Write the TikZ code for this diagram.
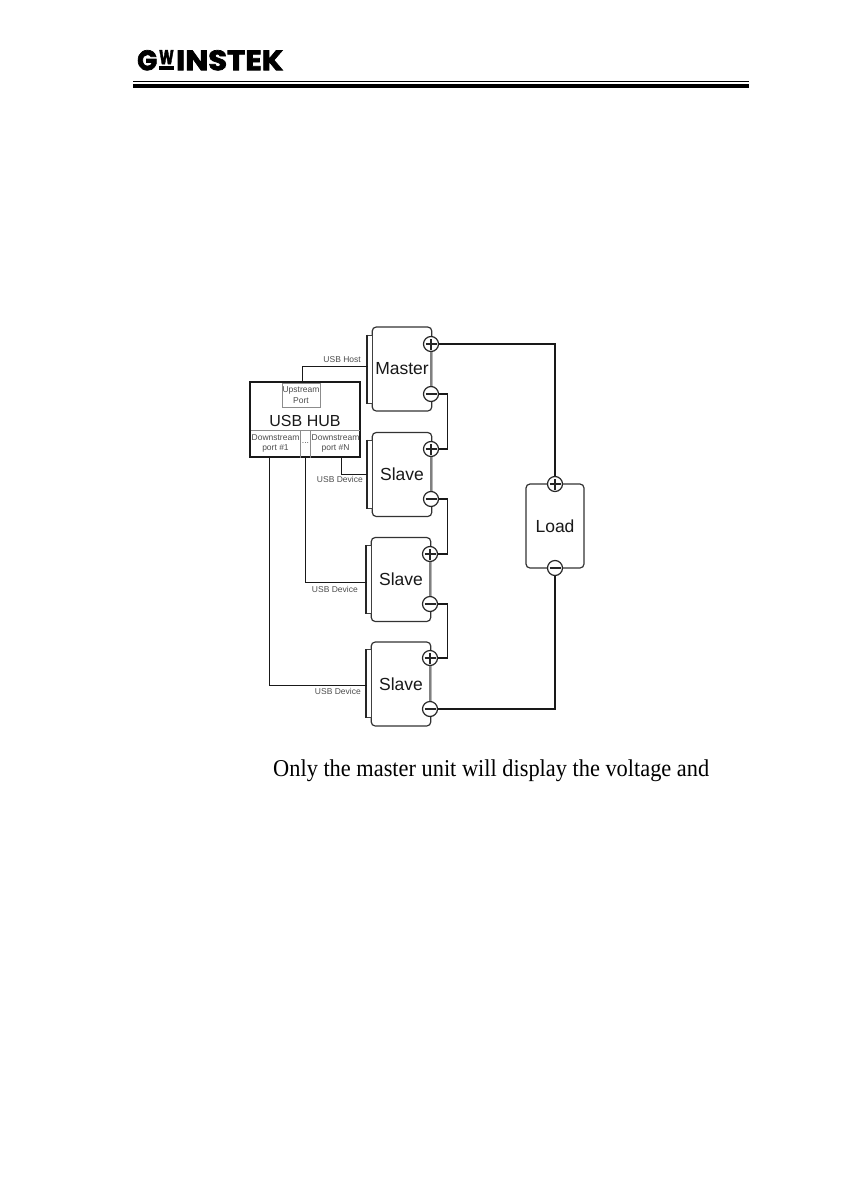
\documentclass[tikz,border=0pt]{standalone}
\usepackage{fontspec}
\setmainfont{Liberation Sans}
\newfontfamily\bookfont{Liberation Serif}
\newfontfamily\logofont{Poppins Bold}[FakeBold=2.5]
\tikzset{
  unitbox/.style={draw=black!80,line width=1.2pt,rounded corners=4pt,fill=white,minimum width=59.5pt,minimum height=84pt,inner sep=0pt,font=\fontsize{17.5}{17.5}\selectfont,text=black!90},
  portbar/.style={draw=black!75,line width=1pt,fill=white,minimum width=4.5pt,minimum height=68pt,inner sep=0pt},
  term/.style={circle,draw=black!85,line width=1.2pt,fill=white,minimum size=15pt,inner sep=0pt},
  wire/.style={draw=black!90,line width=1.2pt},
  thinwire/.style={draw=black!90,line width=1pt},
  small/.style={font=\fontsize{8.5}{10}\selectfont,text=black!70,inner sep=0pt,align=center},
  cell/.style={draw=black!45,line width=.6pt,inner sep=0pt,align=center,font=\fontsize{8.5}{10.5}\selectfont,text=black!70},
  logotext/.style={inner sep=0pt,anchor=north west},
}
\newcommand{\plusmark}[1]{\draw[line width=1.2pt,black!85] ([xshift=-5.5pt]#1.center)--([xshift=5.5pt]#1.center) ([yshift=-5.5pt]#1.center)--([yshift=5.5pt]#1.center);}
\newcommand{\minusmark}[1]{\draw[line width=1.2pt,black!85] ([xshift=-5.5pt]#1.center)--([xshift=5.5pt]#1.center);}
\newcommand{\barleft}[1]{\draw[line width=1.7pt,black!85] (#1.north west)--(#1.south west);}
\begin{document}
\begin{tikzpicture}[x=1pt,y=-1pt]
\useasboundingbox (0,0) rectangle (842,1191);
% header
\node[logotext] (logoG) at (137,50) {\resizebox{20pt}{20pt}{\logofont G}};
\node[logotext] (logoW) at (159,50) {\resizebox{14.5pt}{14pt}{\logofont W}};
\node[fill=black,inner sep=0pt,minimum width=14.5pt,minimum height=3.5pt,anchor=south west] (logoU) at (159,70) {};
\node[logotext] (logoI) at (176,50) {\resizebox{107pt}{20pt}{\logofont INSTEK}};
\fill (133,81.2) rectangle (749,82.4);
\fill (133,84) rectangle (749,88.4);
% units
\node[unitbox] (master) at (402,369) {Master};
\node[unitbox] (s1) at (402,474.5) {Slave};
\node[unitbox] (s2) at (401,579.5) {Slave};
\node[unitbox] (s3) at (401,684) {Slave};
\node[unitbox,minimum width=58pt] (load) at (555,526) {Load};
\node[portbar] (mbar) at (370,369) {};
\node[portbar] (s1bar) at (370,474) {};
\node[portbar] (s2bar) at (369,579.5) {};
\node[portbar] (s3bar) at (369,683.5) {};
\foreach \n in {mbar,s1bar,s2bar,s3bar}{\barleft{\n}}
\coordinate (mport) at (368,366);
\coordinate (s2port) at (367,582);
\coordinate (s3port) at (367,685);
% terminals
\node[term] (mp) at (431,344) {};
\node[term] (mm) at (431,394) {};
\node[term] (s1p) at (431,449) {};
\node[term] (s1m) at (431,499) {};
\node[term] (s2p) at (430,554) {};
\node[term] (s2m) at (430,604) {};
\node[term] (s3p) at (430,658) {};
\node[term] (s3m) at (430,709) {};
\node[term] (lp) at (555,484) {};
\node[term] (lm) at (555,568) {};
\foreach \a/\b in {mp/mm,s1p/s1m,s2p/s2m,s3p/s3m}{\draw[black!50,line width=1.4pt] (\a.south)--(\b.north);}
\foreach \n in {mp,s1p,s2p,s3p,lp}{\plusmark{\n}}
\foreach \n in {mm,s1m,s2m,s3m,lm}{\minusmark{\n}}
% hub
\node[draw=black!90,line width=1.4pt,fill=white,minimum width=110pt,minimum height=75pt,inner sep=0pt] (hub) at (305,419.5) {};
\node[cell,minimum width=38pt,minimum height=24.5pt,anchor=north] (up) at (301,382.5) {Upstream\\Port};
\node[font=\fontsize{16}{16}\selectfont,text=black!90,inner sep=0pt] (hubt) at (305,421) {USB HUB};
\node[cell,draw=none,anchor=center] (d1) at (275.5,443.5) {Downstream\\port \#1};
\node[cell,draw=none,anchor=center] (dn) at (335.5,443.5) {Downstream\\port \#N};
\node[cell,draw=none,anchor=center] (dots) at (305.5,443) {...};
\coordinate (hl) at (250.5,430);
\coordinate (hr) at (359.5,430);
\coordinate (v1) at (300.5,430);
\coordinate (v2) at (310.5,430);
\draw[black!45,line width=.6pt] (hl)--(hr) (v1)--(v1|-hub.south) (v2)--(v2|-hub.south);
% USB connections
\coordinate (upout) at (302,381.5);
\coordinate (hubN) at (341,457);
\coordinate (hub2) at (305,457);
\coordinate (hub1) at (269,457);
\draw[thinwire] (upout) |- (mport);
\draw[thinwire] (hubN) |- (s1bar.west);
\draw[thinwire] (hub2) |- (s2port);
\draw[thinwire] (hub1) |- (s3port);
\node[small,anchor=south east] (l1) at (361,363) {USB Host};
\node[small,anchor=north east] (l2) at (363,476.5) {USB Device};
\node[small,anchor=north east] (l3) at (358,586) {USB Device};
\node[small,anchor=north east] (l4) at (361,688) {USB Device};
% power connections
\draw[wire] (mp.east) -| (lp.north);
\draw[wire] (mm.east) -- ++(8.5,0) |- (s1p.east);
\draw[wire] (s1m.east) -- ++(8,0) |- (s2p.east);
\draw[wire] (s2m.east) -- ++(9,0) |- (s3p.east);
\draw[wire] (s3m.east) -| (lm.south);
% text
\node[anchor=base west,inner sep=0pt] (body) at (273,776) {\scalebox{1}[1.08]{\resizebox{436pt}{!}{\bookfont\fontsize{20}{24}\selectfont Only the master unit will display the voltage and}}};
\end{tikzpicture}
\end{document}
